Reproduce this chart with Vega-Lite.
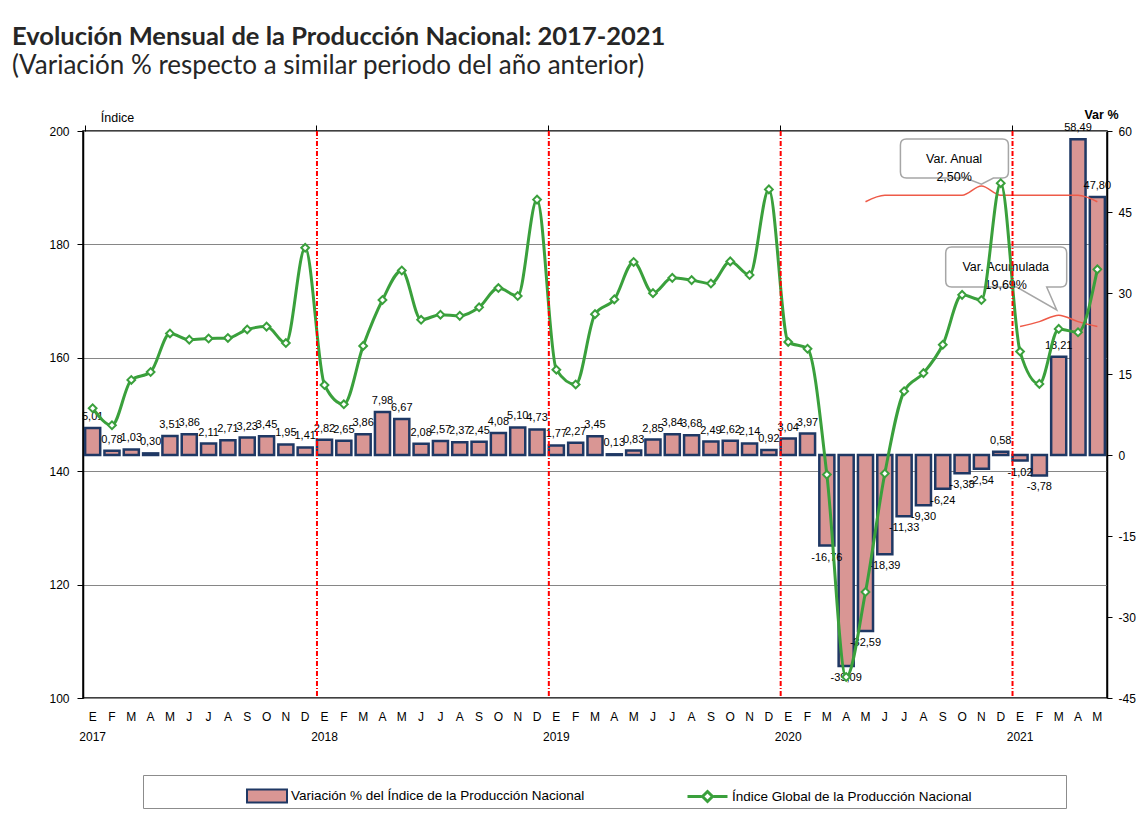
{
  "$schema": "https://vega.github.io/schema/vega-lite/v6.json",
  "width": 1024,
  "height": 567,
  "autosize": {"type": "none"},
  "padding": {"left": 83, "top": 131, "right": 41, "bottom": 130},
  "background": "white",
  "title": {
    "text": "Evolución Mensual de la Producción Nacional: 2017-2021",
    "subtitle": "(Variación % respecto a similar periodo del año anterior)",
    "anchor": "start",
    "frame": "group",
    "dx": -71,
    "offset": 29,
    "font": "Lato",
    "fontSize": 25.5,
    "fontWeight": "bold",
    "color": "#262626",
    "subtitleFont": "Lato",
    "subtitleFontSize": 26,
    "subtitleColor": "#262626",
    "subtitlePadding": 3
  },
  "datasets": {
    "main": [
      {"fecha": "2017-01", "var": 5.01, "indice": 151.1},
      {"fecha": "2017-02", "var": 0.78, "indice": 148.1},
      {"fecha": "2017-03", "var": 1.03, "indice": 156.1},
      {"fecha": "2017-04", "var": 0.30, "indice": 157.5},
      {"fecha": "2017-05", "var": 3.51, "indice": 164.3},
      {"fecha": "2017-06", "var": 3.86, "indice": 163.2},
      {"fecha": "2017-07", "var": 2.11, "indice": 163.4},
      {"fecha": "2017-08", "var": 2.71, "indice": 163.5},
      {"fecha": "2017-09", "var": 3.23, "indice": 165.0},
      {"fecha": "2017-10", "var": 3.45, "indice": 165.5},
      {"fecha": "2017-11", "var": 1.95, "indice": 162.6},
      {"fecha": "2017-12", "var": 1.41, "indice": 179.4},
      {"fecha": "2018-01", "var": 2.82, "indice": 155.2},
      {"fecha": "2018-02", "var": 2.65, "indice": 151.8},
      {"fecha": "2018-03", "var": 3.86, "indice": 162.1},
      {"fecha": "2018-04", "var": 7.98, "indice": 170.2},
      {"fecha": "2018-05", "var": 6.67, "indice": 175.4},
      {"fecha": "2018-06", "var": 2.08, "indice": 166.7},
      {"fecha": "2018-07", "var": 2.57, "indice": 167.6},
      {"fecha": "2018-08", "var": 2.37, "indice": 167.4},
      {"fecha": "2018-09", "var": 2.45, "indice": 168.9},
      {"fecha": "2018-10", "var": 4.08, "indice": 172.3},
      {"fecha": "2018-11", "var": 5.10, "indice": 170.9},
      {"fecha": "2018-12", "var": 4.73, "indice": 187.9},
      {"fecha": "2019-01", "var": 1.77, "indice": 157.9},
      {"fecha": "2019-02", "var": 2.27, "indice": 155.3},
      {"fecha": "2019-03", "var": 3.45, "indice": 167.7},
      {"fecha": "2019-04", "var": 0.13, "indice": 170.3},
      {"fecha": "2019-05", "var": 0.83, "indice": 176.9},
      {"fecha": "2019-06", "var": 2.85, "indice": 171.4},
      {"fecha": "2019-07", "var": 3.84, "indice": 174.1},
      {"fecha": "2019-08", "var": 3.68, "indice": 173.7},
      {"fecha": "2019-09", "var": 2.49, "indice": 173.1},
      {"fecha": "2019-10", "var": 2.62, "indice": 177.0},
      {"fecha": "2019-11", "var": 2.14, "indice": 174.6},
      {"fecha": "2019-12", "var": 0.92, "indice": 189.7},
      {"fecha": "2020-01", "var": 3.04, "indice": 162.8},
      {"fecha": "2020-02", "var": 3.97, "indice": 161.6},
      {"fecha": "2020-03", "var": -16.76, "indice": 139.4},
      {"fecha": "2020-04", "var": -39.09, "indice": 103.7},
      {"fecha": "2020-05", "var": -32.59, "indice": 118.7},
      {"fecha": "2020-06", "var": -18.39, "indice": 139.6},
      {"fecha": "2020-07", "var": -11.33, "indice": 154.1},
      {"fecha": "2020-08", "var": -9.30, "indice": 157.3},
      {"fecha": "2020-09", "var": -6.24, "indice": 162.3},
      {"fecha": "2020-10", "var": -3.38, "indice": 171.1},
      {"fecha": "2020-11", "var": -2.54, "indice": 170.2},
      {"fecha": "2020-12", "var": 0.58, "indice": 190.8},
      {"fecha": "2021-01", "var": -1.02, "indice": 161.1},
      {"fecha": "2021-02", "var": -3.78, "indice": 155.4},
      {"fecha": "2021-03", "var": 18.21, "indice": 165.1},
      {"fecha": "2021-04", "var": 58.49, "indice": 164.5},
      {"fecha": "2021-05", "var": 47.80, "indice": 175.6}
    ],
    "llaves": [
      {"llave": "anual", "fecha": "2020-05", "var": 46.9},
      {"llave": "anual", "fecha": "2020-06", "var": 48.1},
      {"llave": "anual", "fecha": "2020-10", "var": 48.1},
      {"llave": "anual", "fecha": "2020-11", "var": 49.8},
      {"llave": "anual", "fecha": "2020-12", "var": 48.1},
      {"llave": "anual", "fecha": "2021-04", "var": 48.1},
      {"llave": "anual", "fecha": "2021-05", "var": 46.9},
      {"llave": "acum", "fecha": "2021-01", "var": 23.8},
      {"llave": "acum", "fecha": "2021-02", "var": 24.7},
      {"llave": "acum", "fecha": "2021-03", "var": 25.9},
      {"llave": "acum", "fecha": "2021-04", "var": 24.7},
      {"llave": "acum", "fecha": "2021-05", "var": 23.8}
    ],
    "cajas": [
      {"caja": "anual", "fecha": "2020-11", "var": 49.8},
      {"caja": "acum", "fecha": "2021-03", "var": 26.85}
    ],
    "textos": [
      {"caja": "anual", "fecha": "2020-10", "var": 54.8, "texto": "Var. Anual\n2,50%"},
      {"caja": "acum", "fecha": "2020-12", "var": 34.8, "texto": "Var. Acumulada\n19,69%"}
    ]
  },
  "data": {"name": "main"},
  "layer": [
    {
      "encoding": {
        "x": {
          "field": "fecha",
          "type": "ordinal",
          "scale": {"paddingInner": 0.22, "paddingOuter": 0.11},
          "axis": {
            "title": null,
            "ticks": false,
            "domain": false,
            "labelAngle": 0,
            "labelOverlap": false,
            "labelBound": false,
            "labelPadding": 18,
            "labelFontSize": 12,
            "labelLineHeight": 20,
            "labelBaseline": "middle",
            "labelExpr": "[['E','F','M','A','M','J','J','A','S','O','N','D'][toNumber(substring(datum.value,5,7))-1], substring(datum.value,5,7) == '01' ? substring(datum.value,0,4) : '']"
          }
        }
      },
      "layer": [
        {
          "mark": {"type": "bar", "stroke": "#1F3864", "strokeWidth": 2.5},
          "encoding": {
            "y": {
              "field": "var",
              "type": "quantitative",
              "scale": {"domain": [-45, 60], "nice": false},
              "axis": {
                "orient": "right",
                "values": [-45, -30, -15, 0, 15, 30, 45, 60],
                "grid": false,
                "title": "Var %",
                "titleAngle": 0,
                "titleX": -6,
                "titleY": -13,
                "titleAlign": "center",
                "titleBaseline": "alphabetic",
                "titleFontWeight": "bold",
                "titleFontSize": 12.5,
                "tickSize": 5,
                "labelPadding": 6
              }
            },
            "fill": {
              "datum": "Variación % del Índice de la Producción Nacional",
              "scale": {"range": ["#D99694"]},
              "legend": {
                "orient": "none",
                "legendX": 163,
                "legendY": 644,
                "direction": "horizontal",
                "title": null,
                "padding": 0,
                "symbolType": "M-1,-0.32H1V0.32H-1Z",
                "symbolSize": 1600,
                "symbolStrokeColor": "#1F3864",
                "symbolStrokeWidth": 2,
                "labelFont": "Liberation Sans",
                "labelFontSize": 13.5,
                "labelColor": "black",
                "labelOffset": 3,
                "labelLimit": 600
              }
            }
          }
        },
        {
          "transform": [{"filter": "datum['var'] >= 0"}],
          "mark": {"type": "text", "baseline": "bottom", "dy": -6, "fontSize": 11, "color": "black"},
          "encoding": {
            "y": {"field": "var", "type": "quantitative"},
            "text": {"field": "var", "type": "quantitative", "format": ".2f"}
          }
        },
        {
          "transform": [{"filter": "datum['var'] < 0"}],
          "mark": {"type": "text", "baseline": "top", "dy": 6, "fontSize": 11, "color": "black"},
          "encoding": {
            "y": {"field": "var", "type": "quantitative"},
            "text": {"field": "var", "type": "quantitative", "format": ".2f"}
          }
        },
        {
          "data": {"name": "llaves"},
          "mark": {"type": "line", "interpolate": "monotone", "color": "#EE5A48", "strokeWidth": 1.5},
          "encoding": {
            "y": {"field": "var", "type": "quantitative"},
            "detail": {"field": "llave", "type": "nominal"}
          }
        },
        {
          "data": {"name": "cajas"},
          "transform": [{"filter": "datum.caja == 'anual'"}],
          "mark": {
            "type": "point",
            "shape": "M-1.5,-0.94H0.42Q0.54,-0.94 0.54,-0.82V-0.28Q0.54,-0.16 0.42,-0.16H0.24L0,-0.04L-0.32,-0.16H-1.5Q-1.62,-0.16 -1.62,-0.28V-0.82Q-1.62,-0.94 -1.5,-0.94Z",
            "size": 10000,
            "filled": true,
            "fill": "white",
            "stroke": "#A6A6A6",
            "strokeWidth": 1.5,
            "opacity": 1
          },
          "encoding": {"y": {"field": "var", "type": "quantitative"}}
        },
        {
          "data": {"name": "cajas"},
          "transform": [{"filter": "datum.caja == 'acum'"}],
          "mark": {
            "type": "point",
            "shape": "M-2.14,-1.26H0.04Q0.16,-1.26 0.16,-1.14V-0.58Q0.16,-0.46 0.04,-0.46H-0.24L-0.04,0L-0.84,-0.46H-2.14Q-2.26,-0.46 -2.26,-0.58V-1.14Q-2.26,-1.26 -2.14,-1.26Z",
            "size": 10000,
            "filled": true,
            "fill": "white",
            "stroke": "#A6A6A6",
            "strokeWidth": 1.5,
            "opacity": 1
          },
          "encoding": {"y": {"field": "var", "type": "quantitative"}}
        },
        {
          "data": {"name": "textos"},
          "transform": [{"filter": "datum.caja == 'anual'"}],
          "mark": {"type": "text", "lineBreak": "\n", "lineHeight": 18, "baseline": "middle", "dx": -8, "fontSize": 12.5, "color": "black"},
          "encoding": {
            "y": {"field": "var", "type": "quantitative"},
            "text": {"field": "texto", "type": "nominal"}
          }
        },
        {
          "data": {"name": "textos"},
          "transform": [{"filter": "datum.caja == 'acum'"}],
          "mark": {"type": "text", "lineBreak": "\n", "lineHeight": 18, "baseline": "middle", "dx": 5, "fontSize": 12.5, "color": "black"},
          "encoding": {
            "y": {"field": "var", "type": "quantitative"},
            "text": {"field": "texto", "type": "nominal"}
          }
        }
      ]
    },
    {
      "encoding": {"x": {"field": "fecha", "type": "ordinal", "axis": null}},
      "layer": [
        {
          "mark": {"type": "line", "interpolate": "monotone", "strokeWidth": 3},
          "encoding": {
            "y": {
              "field": "indice",
              "type": "quantitative",
              "scale": {"domain": [100, 200], "nice": false, "zero": false},
              "axis": {
                "orient": "left",
                "values": [100, 120, 140, 160, 180, 200],
                "grid": true,
                "gridColor": "#868686",
                "gridWidth": 1,
                "title": "Índice",
                "titleAngle": 0,
                "titleX": 34,
                "titleY": -10,
                "titleAlign": "center",
                "titleBaseline": "alphabetic",
                "titleFontWeight": "normal",
                "titleFontSize": 12.5,
                "tickSize": 6,
                "labelPadding": 8
              }
            },
            "stroke": {
              "datum": "Índice Global de la Producción Nacional",
              "scale": {"range": ["#3AA03C"]},
              "legend": {
                "orient": "none",
                "legendX": 60,
                "legendY": 644,
                "direction": "horizontal",
                "title": " ",
                "titleOrient": "left",
                "titlePadding": 543,
                "padding": 0,
                "strokeColor": "#8C8C8C",
                "symbolType": "M-1,0H-0.3M0.3,0H1M0,-0.25L0.25,0L0,0.25L-0.25,0Z",
                "symbolSize": 1600,
                "symbolFillColor": "white",
                "symbolStrokeWidth": 3,
                "labelFont": "Liberation Sans",
                "labelFontSize": 13.5,
                "labelColor": "black",
                "labelOffset": 3,
                "labelLimit": 700,
                "labelExpr": "datum.label + '\u2003\u2003\u2003\u2003\u2003\u2003\u2003\u200b'"
              }
            }
          }
        },
        {
          "mark": {"type": "point", "shape": "diamond", "filled": true, "fill": "white", "stroke": "#3AA03C", "strokeWidth": 2, "size": 60, "opacity": 1},
          "encoding": {"y": {"field": "indice", "type": "quantitative"}}
        }
      ]
    },
    {
      "transform": [{"filter": "substring(datum.fecha,5,7) == '01' && datum.fecha != '2017-01'"}],
      "mark": {"type": "rule", "color": "#FF0000", "strokeWidth": 2, "strokeDash": [5, 2, 1, 2]},
      "encoding": {
        "x": {
          "field": "fecha",
          "type": "ordinal",
          "bandPosition": 0,
          "axis": {
            "values": ["2017-01", "2018-01", "2019-01", "2020-01", "2021-01"],
            "bandPosition": 0,
            "labels": false,
            "domain": false,
            "ticks": true,
            "tickSize": 6,
            "tickColor": "black",
            "title": null,
            "grid": false
          }
        }
      }
    }
  ],
  "resolve": {"scale": {"y": "independent"}, "axis": {"x": "independent"}},
  "config": {
    "font": "Liberation Sans",
    "view": {"stroke": "black", "strokeWidth": 1.5},
    "text": {"font": "Liberation Sans"},
    "axis": {
      "labelFont": "Liberation Sans",
      "labelFontSize": 12,
      "labelColor": "black",
      "titleFont": "Liberation Sans",
      "titleColor": "black",
      "tickColor": "black",
      "domainColor": "black",
      "domainWidth": 1.5
    },
    "locale": {
      "number": {"decimal": ",", "thousands": ".", "grouping": [3], "currency": ["", ""], "minus": "-"}
    }
  }
}
